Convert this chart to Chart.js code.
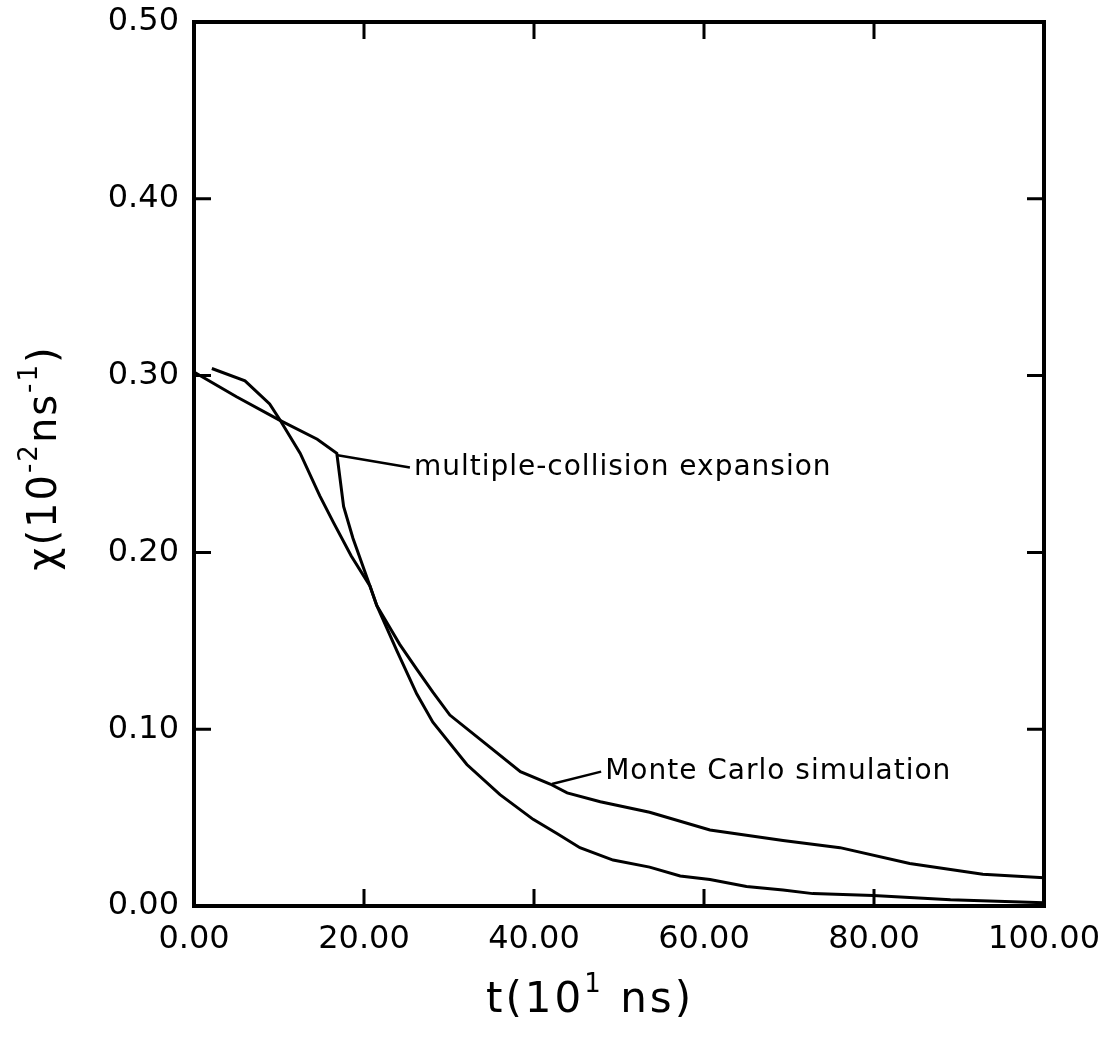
<!DOCTYPE html>
<html>
<head>
<meta charset="utf-8">
<script src="https://cdn.jsdelivr.net/npm/chart.js@4.4.1/dist/chart.umd.min.js"></script>
<style>
  html, body { margin: 0; padding: 0; background: #fff; }
  #wrap { width: 1099px; height: 1043px; }
</style>
</head>
<body>
<div id="wrap"><canvas id="chi" width="1099" height="1043"></canvas></div>
<script>
// time axis in units of 10 ns, chi in units of 10^-2 ns^-1
const tExpansion = [0, 5, 10, 14.5, 16.8, 17.6, 18.7, 20.7, 21.5, 23.9, 26.2, 28.1, 32.1, 36, 39.9, 42.7, 45.4, 49.3, 53.6, 57.2, 60.7, 65, 69.3, 72.8, 79.9, 89, 100];
const chiExpansion = [0.302, 0.288, 0.275, 0.264, 0.256, 0.226, 0.208, 0.181, 0.170, 0.144, 0.120, 0.104, 0.080, 0.063, 0.049, 0.041, 0.033, 0.026, 0.022, 0.017, 0.015, 0.011, 0.009, 0.007, 0.006, 0.0035, 0.0018];

const tMonteCarlo = [2.1, 6.0, 8.9, 10.1, 12.5, 14.8, 16.4, 18.5, 20.7, 21.5, 24.2, 26.2, 28.1, 30.1, 34, 38.4, 41.9, 43.9, 47.8, 53.6, 60.7, 69.3, 76, 84.2, 92.8, 100];
const chiMonteCarlo = [0.304, 0.297, 0.284, 0.275, 0.256, 0.232, 0.217, 0.198, 0.181, 0.170, 0.148, 0.134, 0.121, 0.108, 0.093, 0.076, 0.069, 0.064, 0.059, 0.053, 0.043, 0.037, 0.033, 0.024, 0.018, 0.016];

const xTicks = [0, 20, 40, 60, 80, 100];
const yTicks = [0, 0.1, 0.2, 0.3, 0.4, 0.5];

// label callouts: pointer start on the curve, pointer end where the text begins
const callouts = [
  { text: 'multiple-collision expansion', from: [16.9, 0.255], to: [25.4, 0.248] },
  { text: 'Monte Carlo simulation', from: [42.1, 0.069], to: [47.9, 0.076] }
];

const FONT = '"DejaVu Sans", sans-serif';

function toPoints(xs, ys) {
  return xs.map((x, i) => ({ x: x, y: ys[i] }));
}

function drawRich(ctx, parts, cx, baseY, size, supSize, rise, spacing) {
  ctx.letterSpacing = spacing + 'px';
  let w = 0;
  parts.forEach(p => {
    ctx.font = (p.sup ? supSize : size) + 'px ' + FONT;
    p.w = ctx.measureText(p.text).width;
    w += p.w;
  });
  let x = cx - w / 2;
  ctx.textAlign = 'left';
  ctx.textBaseline = 'alphabetic';
  parts.forEach(p => {
    ctx.font = (p.sup ? supSize : size) + 'px ' + FONT;
    ctx.fillText(p.text, x, p.sup ? baseY - rise : baseY);
    x += p.w;
  });
  ctx.letterSpacing = '0px';
}

const framePlugin = {
  id: 'frame',
  afterDatasetsDraw(chart) {
    const ctx = chart.ctx;
    const a = chart.chartArea;
    const xs = chart.scales.x, ys = chart.scales.y;
    const tick = 17;
    ctx.save();
    ctx.strokeStyle = '#000';
    ctx.lineWidth = 4;
    ctx.strokeRect(a.left, a.top, a.right - a.left, a.bottom - a.top);
    ctx.lineWidth = 3;
    ctx.beginPath();
    xTicks.slice(1, -1).forEach(v => {
      const px = xs.getPixelForValue(v);
      ctx.moveTo(px, a.bottom); ctx.lineTo(px, a.bottom - tick);
      ctx.moveTo(px, a.top); ctx.lineTo(px, a.top + tick);
    });
    yTicks.slice(1, -1).forEach(v => {
      const py = ys.getPixelForValue(v);
      ctx.moveTo(a.left, py); ctx.lineTo(a.left + tick, py);
      ctx.moveTo(a.right, py); ctx.lineTo(a.right - tick, py);
    });
    ctx.stroke();

    // callouts
    ctx.lineWidth = 2.5;
    ctx.fillStyle = '#000';
    callouts.forEach(c => {
      const x0 = xs.getPixelForValue(c.from[0]), y0 = ys.getPixelForValue(c.from[1]);
      const x1 = xs.getPixelForValue(c.to[0]), y1 = ys.getPixelForValue(c.to[1]);
      ctx.beginPath();
      ctx.moveTo(x0, y0); ctx.lineTo(x1, y1);
      ctx.stroke();
      ctx.font = '28px ' + FONT;
      ctx.letterSpacing = '1px';
      ctx.textAlign = 'left';
      ctx.textBaseline = 'middle';
      ctx.fillText(c.text, x1 + 4, y1);
      ctx.letterSpacing = '0px';
    });

    // axis titles
    const midX = (a.left + a.right) / 2;
    drawRich(ctx, [
      { text: 't(10' }, { text: '1', sup: true }, { text: ' ns)' }
    ], midX - 29, 1012, 42, 26, 20, 3);

    ctx.save();
    ctx.translate(56, (a.top + a.bottom) / 2 - 6);
    ctx.rotate(-Math.PI / 2);
    drawRich(ctx, [
      { text: '\u03C7(10' }, { text: '-2', sup: true }, { text: 'ns' }, { text: '-1', sup: true }, { text: ')' }
    ], 0, 0, 40, 26, 19, 2);
    ctx.restore();
    ctx.restore();
  }
};

new Chart(document.getElementById('chi'), {
  type: 'scatter',
  data: {
    datasets: [
      {
        label: 'multiple-collision expansion',
        data: toPoints(tExpansion, chiExpansion),
        showLine: true,
        borderColor: '#000',
        borderWidth: 3,
        pointRadius: 0,
        tension: 0
      },
      {
        label: 'Monte Carlo simulation',
        data: toPoints(tMonteCarlo, chiMonteCarlo),
        showLine: true,
        borderColor: '#000',
        borderWidth: 3,
        pointRadius: 0,
        tension: 0
      }
    ]
  },
  options: {
    responsive: false,
    animation: false,
    layout: { padding: { top: 22, right: 55, left: 0, bottom: 0 } },
    plugins: {
      legend: { display: false },
      tooltip: { enabled: false }
    },
    scales: {
      x: {
        type: 'linear',
        min: 0,
        max: 100,
        afterBuildTicks: s => { s.ticks = xTicks.map(v => ({ value: v })); },
        afterFit: s => { s.height = 137; s.paddingLeft = 0; s.paddingRight = 0; },
        grid: { display: false, drawTicks: false },
        border: { display: false },
        ticks: {
          color: '#000',
          padding: 14,
          font: { family: FONT, size: 32 },
          callback: v => v.toFixed(2)
        }
      },
      y: {
        type: 'linear',
        min: 0,
        max: 0.5,
        afterBuildTicks: s => { s.ticks = yTicks.map(v => ({ value: v })); },
        afterFit: s => { s.width = 194; s.paddingTop = 0; s.paddingBottom = 0; },
        grid: { display: false, drawTicks: false },
        border: { display: false },
        ticks: {
          color: '#000',
          padding: 15,
          font: { family: FONT, size: 32 },
          callback: v => v.toFixed(2)
        }
      }
    }
  },
  plugins: [framePlugin]
});
</script>
</body>
</html>
